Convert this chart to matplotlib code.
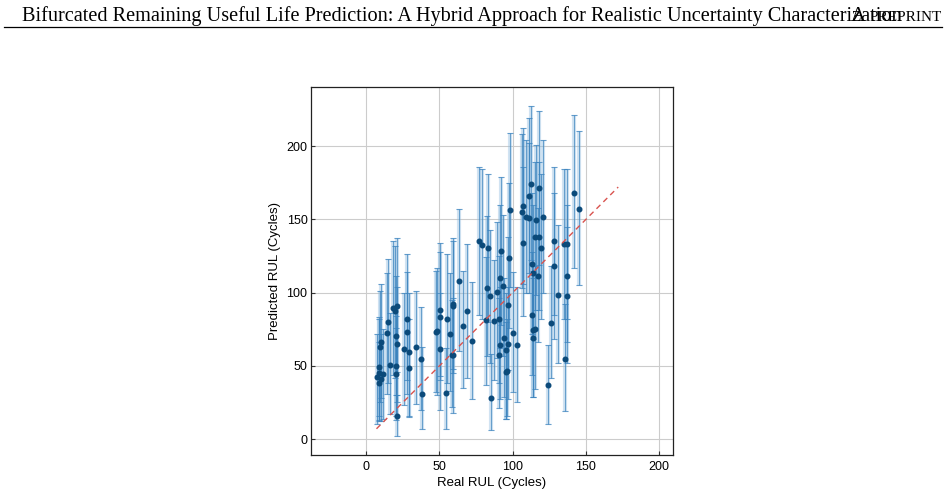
import matplotlib
matplotlib.use('Agg')
import matplotlib.pyplot as plt
import numpy as np

# real RUL, predicted RUL and interval bounds (cycles)
real_rul = [7.3, 8.4, 8.4, 8.4, 9.1, 10.2, 10.2, 11.4, 14.1, 15.2,
            16.4, 18.2, 19.3, 20.0, 20.0, 20.0, 21.2, 21.2, 21.2, 26.1,
            28.0, 28.0, 28.9, 29.4, 34.1, 37.1, 38.2, 47.3, 48.5, 50.3,
            50.3, 50.3, 54.4, 55.3, 57.3, 58.3, 59.4, 58.9, 59.4, 63.3,
            66.2, 69.1, 72.4, 77.1, 79.2, 81.9, 82.4, 83.3, 84.2, 85.1,
            87.4, 89.2, 90.3, 90.3, 91.0, 91.3, 92.2, 93.1, 94.2, 95.1,
            95.6, 96.2, 97.1, 97.1, 97.4, 98.3, 100.3, 103.1, 106.0, 107.2,
            107.2, 109.0, 111.1, 111.3, 112.2, 113.1, 113.1, 114.0, 114.0, 114.0,
            115.2, 114.9, 116.0, 117.0, 118.1, 118.1, 119.0, 121.0, 124.2, 126.3,
            128.1, 128.1, 131.1, 135.2, 136.0, 137.0, 137.2, 137.2, 142.0, 145.2]
pred_rul = [42.1, 45.3, 38.0, 49.4, 62.8, 66.5, 41.2, 44.2, 72.4, 79.9,
            50.8, 89.7, 87.4, 70.4, 49.9, 44.2, 91.1, 64.7, 15.9, 61.7,
            82.2, 73.1, 59.4, 48.5, 62.8, 54.9, 30.9, 73.1, 73.8, 88.1,
            83.6, 61.3, 31.4, 82.0, 71.7, 57.2, 57.2, 92.0, 91.1, 107.7,
            77.2, 87.4, 67.2, 135.0, 132.3, 81.5, 103.3, 130.2, 97.7, 28.0,
            80.8, 100.2, 82.2, 57.6, 64.2, 110.2, 128.4, 104.3, 69.0, 60.6,
            45.8, 46.2, 65.1, 91.3, 123.8, 156.2, 72.4, 64.2, 155.3, 159.4,
            133.9, 151.6, 166.2, 150.7, 174.2, 84.5, 119.3, 113.6, 74.2, 69.0,
            75.1, 138.0, 149.6, 111.3, 171.2, 138.0, 130.3, 151.4, 36.7, 79.2,
            118.4, 135.0, 98.6, 133.2, 54.4, 133.2, 111.3, 97.7, 168.2, 157.3]
pred_lo = [10, 13, 12, 16, 25, 28, 12, 14, 31, 38,
           17, 44, 42, 30, 16, 13, 46, 25, 2, 23,
           40, 31, 16, 15, 24, 20, 7, 32, 30, 43,
           40, 20, 7, 38, 33, 22, 18, 48, 45, 60,
           35, 42, 27, 85, 82, 37, 57, 80, 52, 6,
           40, 55, 38, 21, 27, 62, 78, 57, 29, 14,
           14, 16, 27, 47, 76, 104, 32, 25, 103, 106,
           84, 100, 113, 100, 122, 44, 72, 68, 29, 29,
           34, 88, 98, 66, 119, 88, 82, 100, 10, 42,
           68, 85, 52, 82, 19, 82, 66, 52, 117, 105]
pred_hi = [72, 82, 66, 83, 101, 106, 72, 75, 113, 123,
           86, 135, 132, 111, 84, 76, 137, 104, 30, 100,
           126, 114, 100, 82, 101, 90, 63, 115, 117, 134,
           128, 100, 62, 126, 113, 95, 96, 137, 135, 157,
           115, 133, 107, 186, 184, 124, 152, 181, 143, 58,
           122, 148, 125, 96, 104, 160, 179, 153, 110, 100,
           80, 82, 104, 138, 175, 209, 114, 104, 208, 212,
           186, 204, 219, 202, 227, 128, 168, 160, 115, 110,
           118, 189, 201, 158, 224, 189, 181, 204, 64, 118,
           168, 186, 146, 184, 92, 184, 160, 145, 221, 210]
ideal_line = [7, 172]

x_ticks = [0, 50, 100, 150, 200]
y_ticks = [0, 50, 100, 150, 200]

plt.rcParams['font.family'] = ['Liberation Sans', 'DejaVu Sans']

real = np.array(real_rul)
pred = np.array(pred_rul)
yerr = np.array([pred - np.array(pred_lo), np.array(pred_hi) - pred])

fig = plt.figure(figsize=(9.48, 5.0), dpi=100)

# page header (running title overlaps "A PREPRINT" as in the paper)
fig.text(22 / 948, 1 - 21 / 500, 'Bifurcated Remaining Useful Life Prediction: A Hybrid Approach for Realistic Uncertainty Characterization',
         family='Liberation Serif', fontsize=14.6, ha='left', va='baseline')
fig.text(851 / 948, 1 - 21 / 500, 'A', family='Liberation Serif', fontsize=14.6,
         ha='left', va='baseline')
fig.text(942 / 948, 1 - 21 / 500, 'PREPRINT', family='Liberation Serif', fontsize=11,
         ha='right', va='baseline')
fig.add_artist(plt.Line2D([4 / 948, 942 / 948], [1 - 27 / 500, 1 - 27 / 500],
                          color='black', lw=0.9, transform=fig.transFigure))

ax = fig.add_axes([311 / 948, 1 - 455 / 500, 362 / 948, 368 / 500])

# wide light band + thin darker line for each interval
ax.errorbar(real, pred, yerr=yerr, fmt='none', ecolor='#8dbbe0', elinewidth=3.0,
            alpha=0.4, capsize=2, capthick=1.0, zorder=2)
ax.errorbar(real, pred, yerr=yerr, fmt='none', ecolor='#3a82bd', elinewidth=0.8,
            alpha=0.7, capsize=2, capthick=0.7, zorder=3)
ax.plot(real, pred, 'o', color='#0b4a7a', markersize=3.3, zorder=4)

ax.plot(ideal_line, ideal_line, '--', color='#d9534f', lw=1.0, dashes=(4, 3), zorder=5)

ax.set_xlim(-37.7, 209.4)
ax.set_ylim(-10.9, 240.3)
ax.set_xticks(x_ticks)
ax.set_yticks(y_ticks)
ax.grid(True, color='#cccccc', lw=0.8)
ax.set_axisbelow(True)
ax.tick_params(direction='in', length=3, labelsize=9, color='#333333')
ax.tick_params(axis='y', pad=2.5)
ax.tick_params(axis='x', pad=4.5)
for s in ax.spines.values():
    s.set_color('#222222')
    s.set_linewidth(0.9)

ax.set_xlabel('Real RUL (Cycles)', fontsize=9.5, labelpad=3)
ax.set_ylabel('Predicted RUL (Cycles)', fontsize=9.5, labelpad=4)

fig.savefig('out.png', dpi=100)
